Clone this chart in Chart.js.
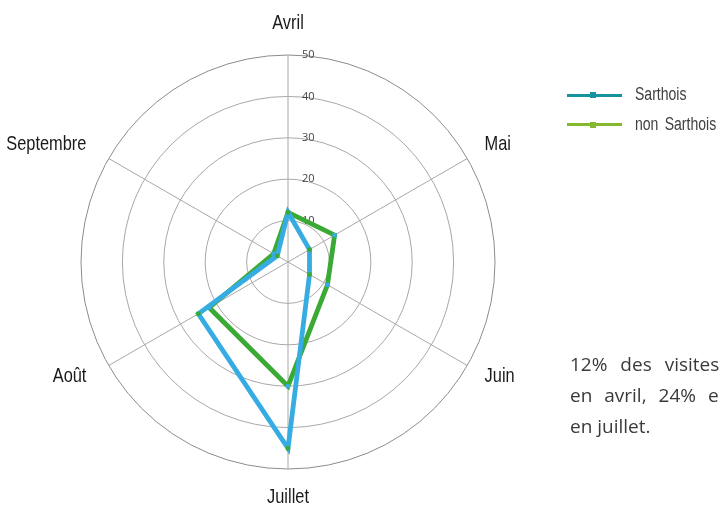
<!DOCTYPE html>
<html>
<head>
<meta charset="utf-8">
<script src="https://cdn.jsdelivr.net/npm/chart.js@4"></script>
<style>
  body { margin: 0; background: #fff; overflow: hidden; }
  .wrap { position: relative; width: 720px; height: 506px; overflow: hidden; }
  canvas { position: absolute; left: 0; top: 0; }
  .leg-line { position: absolute; left: 567px; width: 55px; height: 3px; }
  .leg-dot { position: absolute; left: 590px; width: 6px; height: 6px; }
  .leg-text { position: absolute; left: 635px; font: 18px "Liberation Sans", Arial, sans-serif; color: #404040; white-space: nowrap; line-height: 20px; word-spacing: 3px; transform: scaleX(0.78); transform-origin: 0 0; }
  .note { position: absolute; left: 570px; top: 349px; font: 19px "Open Sans", sans-serif; color: #3a3a3a; line-height: 30.8px; white-space: nowrap; }
</style>
</head>
<body>
<div class="wrap">
  <canvas id="radar" width="720" height="506"></canvas>

  <div class="leg-line" style="top:93.5px;background:#17929e"></div>
  <div class="leg-dot" style="top:92px;background:#17929e"></div>
  <div class="leg-text" style="top:84px">Sarthois</div>

  <div class="leg-line" style="top:123px;background:#84b82e"></div>
  <div class="leg-dot" style="top:121.5px;background:#84b82e"></div>
  <div class="leg-text" style="top:113.5px">non Sarthois</div>

  <div class="note">
    <div style="word-spacing:8px">12% des visites des Sarthois ont lieu</div>
    <div style="word-spacing:7px">en avril, 24% en août et 45%</div>
    <div>en juillet.</div>
  </div>
</div>

<script>
const months = ["Avril", "Mai", "Juin", "Juillet", "Août", "Septembre"];
const sarthois = [12, 6, 6, 45, 25, 3];
const nonSarthois = [12, 13, 11, 30, 22, 4];
const tickValues = [10, 20, 30, 40, 50];

const blue = "#36ace2";
const green = "#3aaa35";

// narrow text: the original uses a condensed face
function narrowText(ctx, text, x, y, align, baseline) {
  ctx.save();
  ctx.translate(x, y);
  ctx.scale(0.78, 1);
  ctx.textAlign = align;
  ctx.textBaseline = baseline;
  ctx.fillText(text, 0, 0);
  ctx.restore();
}

// tick numbers and month names, placed from the radial scale
const axisText = {
  id: "axisText",
  beforeDatasetsDraw(chart) {
    const scale = chart.scales.r;
    const ctx = chart.ctx;
    ctx.save();

    ctx.font = '11px "Open Sans", sans-serif';
    ctx.fillStyle = "#444";
    ctx.textAlign = "left";
    ctx.textBaseline = "middle";
    tickValues.forEach(function (v) {
      const p = scale.getPointPositionForValue(0, v);
      ctx.fillText(String(v), p.x + 14, p.y);
    });

    ctx.font = '21px "Liberation Sans", Arial, sans-serif';
    ctx.fillStyle = "#1a1a1a";
    for (var i = 0; i < months.length; i++) {
      const p = scale.getPointPosition(i, scale.drawingArea + 20);
      const dx = Math.round(p.x - scale.xCenter);
      const dy = p.y - scale.yCenter;
      if (dx === 0) {
        if (dy < 0) {
          narrowText(ctx, months[i], p.x, p.y - 6, "center", "alphabetic");
        } else {
          narrowText(ctx, months[i], p.x, p.y + 14, "center", "alphabetic");
        }
      } else {
        narrowText(ctx, months[i], dx > 0 ? p.x : p.x - 5, (dy < 0 ? p.y - 6 : p.y - 1) + 7.5,
          dx > 0 ? "left" : "right", "alphabetic");
      }
    }
    ctx.restore();
  }
};

new Chart(document.getElementById("radar"), {
  type: "radar",
  data: {
    labels: months,
    datasets: [
      {
        label: "Sarthois",
        data: sarthois,
        borderColor: blue,
        borderWidth: 4.8,
        borderJoinStyle: "miter",
        fill: false,
        pointStyle: "rect",
        pointRadius: 3,
        pointBorderWidth: 0,
        pointBackgroundColor: green
      },
      {
        label: "non Sarthois",
        data: nonSarthois,
        borderColor: green,
        borderWidth: 4.8,
        borderJoinStyle: "miter",
        fill: false,
        pointStyle: "rect",
        pointRadius: 3,
        pointBorderWidth: 0,
        pointBackgroundColor: blue
      }
    ]
  },
  options: {
    responsive: false,
    animation: false,
    devicePixelRatio: 1,
    layout: { padding: { left: 81, top: 55, right: 225, bottom: 37 } },
    plugins: {
      legend: { display: false },
      tooltip: { enabled: false }
    },
    elements: { line: { tension: 0 } },
    scales: {
      r: {
        min: 0,
        max: 50,
        ticks: { stepSize: 10, display: false },
        pointLabels: { display: false },
        grid: {
          circular: true,
          color: function (c) { return c.tick && c.tick.value === 50 ? "#8c8c8c" : "#a8a8a8"; },
          lineWidth: 1
        },
        angleLines: { color: "#a8a8a8", lineWidth: 1 }
      }
    }
  },
  plugins: [axisText]
});
</script>
</body>
</html>
